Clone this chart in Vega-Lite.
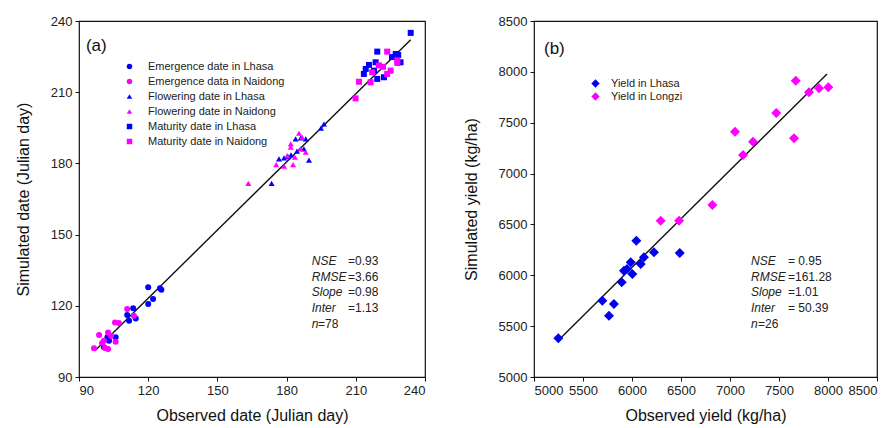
{
  "$schema": "https://vega.github.io/schema/vega-lite/v6.json",
  "padding": {"left": 14, "top": 14, "right": 8, "bottom": 6},
  "bounds": "flush",
  "spacing": 109,
  "background": "white",
  "config": {
    "font": "Liberation Sans",
    "view": {"stroke": "#111", "strokeWidth": 1.2},
    "axis": {
      "grid": false,
      "domain": false,
      "tickColor": "#111",
      "tickSize": 4,
      "labelFontSize": 13,
      "labelColor": "#222",
      "labelPadding": 3,
      "titleFontSize": 16,
      "titleFontWeight": "normal",
      "titleColor": "#111"
    },
    "axisX": {"titlePadding": 10},
    "axisY": {"titlePadding": 19}
  },
  "datasets": {
    "dates": [
      {"series": "Emergence date in Lhasa", "obs": 120.0, "sim": 127.8},
      {"series": "Emergence date in Lhasa", "obs": 125.1, "sim": 127.4},
      {"series": "Emergence date in Lhasa", "obs": 125.7, "sim": 126.8},
      {"series": "Emergence date in Lhasa", "obs": 122.1, "sim": 122.9},
      {"series": "Emergence date in Lhasa", "obs": 120.0, "sim": 120.8},
      {"series": "Emergence date in Lhasa", "obs": 113.5, "sim": 119.0},
      {"series": "Emergence date in Lhasa", "obs": 110.9, "sim": 116.1},
      {"series": "Emergence date in Lhasa", "obs": 114.6, "sim": 114.7},
      {"series": "Emergence date in Lhasa", "obs": 111.7, "sim": 113.7},
      {"series": "Emergence date in Lhasa", "obs": 102.3, "sim": 106.7},
      {"series": "Emergence date in Lhasa", "obs": 105.9, "sim": 106.7},
      {"series": "Emergence date in Lhasa", "obs": 100.8, "sim": 102.5},
      {"series": "Emergence date in Lhasa", "obs": 103.0, "sim": 105.3},
      {"series": "Emergence data in Naidong", "obs": 110.9, "sim": 118.7},
      {"series": "Emergence data in Naidong", "obs": 113.8, "sim": 115.8},
      {"series": "Emergence data in Naidong", "obs": 105.6, "sim": 113.0},
      {"series": "Emergence data in Naidong", "obs": 98.7, "sim": 107.7},
      {"series": "Emergence data in Naidong", "obs": 102.6, "sim": 108.8},
      {"series": "Emergence data in Naidong", "obs": 100.8, "sim": 105.3},
      {"series": "Emergence data in Naidong", "obs": 105.9, "sim": 104.9},
      {"series": "Emergence data in Naidong", "obs": 96.5, "sim": 102.1},
      {"series": "Emergence data in Naidong", "obs": 102.6, "sim": 101.8},
      {"series": "Emergence data in Naidong", "obs": 100.0, "sim": 104.3},
      {"series": "Emergence data in Naidong", "obs": 103.9, "sim": 107.3},
      {"series": "Emergence data in Naidong", "obs": 101.3, "sim": 102.2},
      {"series": "Emergence data in Naidong", "obs": 107.3, "sim": 112.8},
      {"series": "Flowering date in Lhasa", "obs": 196.2, "sim": 196.6},
      {"series": "Flowering date in Lhasa", "obs": 183.9, "sim": 190.3},
      {"series": "Flowering date in Lhasa", "obs": 186.1, "sim": 190.7},
      {"series": "Flowering date in Lhasa", "obs": 188.3, "sim": 190.3},
      {"series": "Flowering date in Lhasa", "obs": 187.5, "sim": 186.1},
      {"series": "Flowering date in Lhasa", "obs": 189.7, "sim": 181.4},
      {"series": "Flowering date in Lhasa", "obs": 176.7, "sim": 181.9},
      {"series": "Flowering date in Lhasa", "obs": 178.9, "sim": 182.3},
      {"series": "Flowering date in Lhasa", "obs": 180.7, "sim": 182.8},
      {"series": "Flowering date in Lhasa", "obs": 173.5, "sim": 171.6},
      {"series": "Flowering date in Lhasa", "obs": 194.9, "sim": 194.9},
      {"series": "Flowering date in Lhasa", "obs": 181.9, "sim": 183.6},
      {"series": "Flowering date in Lhasa", "obs": 184.5, "sim": 185.2},
      {"series": "Flowering date in Naidong", "obs": 185.4, "sim": 192.7},
      {"series": "Flowering date in Naidong", "obs": 181.8, "sim": 188.2},
      {"series": "Flowering date in Naidong", "obs": 181.8, "sim": 186.8},
      {"series": "Flowering date in Naidong", "obs": 186.1, "sim": 186.1},
      {"series": "Flowering date in Naidong", "obs": 188.3, "sim": 184.7},
      {"series": "Flowering date in Naidong", "obs": 180.3, "sim": 183.3},
      {"series": "Flowering date in Naidong", "obs": 183.6, "sim": 182.6},
      {"series": "Flowering date in Naidong", "obs": 175.5, "sim": 179.5},
      {"series": "Flowering date in Naidong", "obs": 178.9, "sim": 178.8},
      {"series": "Flowering date in Naidong", "obs": 182.8, "sim": 179.5},
      {"series": "Flowering date in Naidong", "obs": 163.4, "sim": 171.6},
      {"series": "Flowering date in Naidong", "obs": 186.7, "sim": 191.1},
      {"series": "Maturity date in Lhasa", "obs": 233.8, "sim": 235.0},
      {"series": "Maturity date in Lhasa", "obs": 219.3, "sim": 227.1},
      {"series": "Maturity date in Lhasa", "obs": 227.3, "sim": 226.1},
      {"series": "Maturity date in Lhasa", "obs": 228.4, "sim": 225.7},
      {"series": "Maturity date in Lhasa", "obs": 218.6, "sim": 222.6},
      {"series": "Maturity date in Lhasa", "obs": 229.4, "sim": 222.6},
      {"series": "Maturity date in Lhasa", "obs": 214.3, "sim": 219.8},
      {"series": "Maturity date in Lhasa", "obs": 217.9, "sim": 219.1},
      {"series": "Maturity date in Lhasa", "obs": 213.5, "sim": 217.7},
      {"series": "Maturity date in Lhasa", "obs": 219.3, "sim": 215.6},
      {"series": "Maturity date in Lhasa", "obs": 222.2, "sim": 216.3},
      {"series": "Maturity date in Lhasa", "obs": 225.7, "sim": 224.8},
      {"series": "Maturity date in Lhasa", "obs": 215.7, "sim": 221.5},
      {"series": "Maturity date in Naidong", "obs": 223.6, "sim": 227.1},
      {"series": "Maturity date in Naidong", "obs": 220.0, "sim": 221.3},
      {"series": "Maturity date in Naidong", "obs": 228.0, "sim": 223.4},
      {"series": "Maturity date in Naidong", "obs": 228.0, "sim": 222.3},
      {"series": "Maturity date in Naidong", "obs": 217.1, "sim": 218.4},
      {"series": "Maturity date in Naidong", "obs": 225.1, "sim": 219.1},
      {"series": "Maturity date in Naidong", "obs": 223.6, "sim": 217.7},
      {"series": "Maturity date in Naidong", "obs": 211.4, "sim": 214.4},
      {"series": "Maturity date in Naidong", "obs": 216.4, "sim": 214.2},
      {"series": "Maturity date in Naidong", "obs": 209.9, "sim": 207.4},
      {"series": "Maturity date in Naidong", "obs": 221.8, "sim": 220.7}
    ],
    "dateFit": [
      {"obs": 96.9, "sim": 101.1},
      {"obs": 233.8, "sim": 232.1}
    ],
    "yields": [
      {"series": "Yield in Lhasa", "obs": 5248, "sim": 5380},
      {"series": "Yield in Lhasa", "obs": 5697, "sim": 5750},
      {"series": "Yield in Lhasa", "obs": 5816, "sim": 5718},
      {"series": "Yield in Lhasa", "obs": 5765, "sim": 5603},
      {"series": "Yield in Lhasa", "obs": 5895, "sim": 5931},
      {"series": "Yield in Lhasa", "obs": 5918, "sim": 6045},
      {"series": "Yield in Lhasa", "obs": 6003, "sim": 6013},
      {"series": "Yield in Lhasa", "obs": 5987, "sim": 6128},
      {"series": "Yield in Lhasa", "obs": 6089, "sim": 6111},
      {"series": "Yield in Lhasa", "obs": 6122, "sim": 6177},
      {"series": "Yield in Lhasa", "obs": 6044, "sim": 6340},
      {"series": "Yield in Lhasa", "obs": 6224, "sim": 6226},
      {"series": "Yield in Lhasa", "obs": 6487, "sim": 6219},
      {"series": "Yield in Lhasa", "obs": 5949, "sim": 6062},
      {"series": "Yield in Longzi", "obs": 6293, "sim": 6537},
      {"series": "Yield in Longzi", "obs": 6480, "sim": 6537},
      {"series": "Yield in Longzi", "obs": 6820, "sim": 6691},
      {"series": "Yield in Longzi", "obs": 7051, "sim": 7412},
      {"series": "Yield in Longzi", "obs": 7133, "sim": 7182},
      {"series": "Yield in Longzi", "obs": 7235, "sim": 7313},
      {"series": "Yield in Longzi", "obs": 7472, "sim": 7595},
      {"series": "Yield in Longzi", "obs": 7653, "sim": 7347},
      {"series": "Yield in Longzi", "obs": 7671, "sim": 7913},
      {"series": "Yield in Longzi", "obs": 7806, "sim": 7799},
      {"series": "Yield in Longzi", "obs": 7908, "sim": 7838},
      {"series": "Yield in Longzi", "obs": 8003, "sim": 7848}
    ],
    "yieldFit": [
      {"obs": 5245, "sim": 5357},
      {"obs": 7990, "sim": 7979}
    ]
  },
  "hconcat": [
    {
      "width": 346,
      "height": 356,
      "layer": [
        {
          "data": {"name": "dateFit"},
          "mark": {"type": "line", "color": "#111", "strokeWidth": 1.4},
          "encoding": {
            "x": {"field": "obs", "type": "quantitative", "scale": {"domain": [90, 240], "nice": false, "zero": false}, "axis": {"values": [90, 120, 150, 180, 210, 240], "title": "Observed date (Julian day)"}},
            "y": {"field": "sim", "type": "quantitative", "scale": {"domain": [90, 240], "nice": false, "zero": false}, "axis": {"values": [90, 120, 150, 180, 210, 240], "title": "Simulated date (Julian day)"}}
          }
        },
        {
          "data": {"name": "dates"},
          "mark": {"type": "point", "filled": true, "opacity": 1, "size": 36},
          "encoding": {
            "x": {"field": "obs", "type": "quantitative"},
            "y": {"field": "sim", "type": "quantitative"},
            "color": {
              "field": "series", "type": "nominal",
              "scale": {
                "domain": ["Emergence date in Lhasa", "Emergence data in Naidong", "Flowering date in Lhasa", "Flowering date in Naidong", "Maturity date in Lhasa", "Maturity date in Naidong"],
                "range": ["#0000ff", "#ff00ff", "#0000ff", "#ff00ff", "#0000ff", "#ff00ff"]
              },
              "legend": {"title": null, "orient": "none", "legendX": 45, "legendY": 40, "labelFontSize": 11, "labelColor": "#222", "labelOffset": 13, "symbolSize": 30, "rowPadding": 3, "padding": 0}
            },
            "shape": {
              "field": "series", "type": "nominal",
              "scale": {
                "domain": ["Emergence date in Lhasa", "Emergence data in Naidong", "Flowering date in Lhasa", "Flowering date in Naidong", "Maturity date in Lhasa", "Maturity date in Naidong"],
                "range": ["circle", "circle", "triangle-up", "triangle-up", "square", "square"]
              },
              "legend": {"title": null, "orient": "none", "legendX": 45, "legendY": 40, "labelFontSize": 11, "labelColor": "#222", "labelOffset": 13, "symbolSize": 30, "rowPadding": 3, "padding": 0}
            }
          }
        },
        {
          "data": {"values": [{}]},
          "mark": {"type": "text", "fontSize": 17, "align": "left", "baseline": "middle", "color": "#111"},
          "encoding": {
            "x": {"datum": 93, "type": "quantitative"},
            "y": {"datum": 229.5, "type": "quantitative"},
            "text": {"value": "(a)"}
          }
        },
        {
          "data": {"values": [{}]},
          "mark": {"type": "text", "fontSize": 12, "fontStyle": "italic", "align": "left", "baseline": "top", "lineHeight": 15.7, "color": "#222"},
          "encoding": {
            "x": {"datum": 190.9, "type": "quantitative"},
            "y": {"datum": 141.0, "type": "quantitative"},
            "text": {"value": ["NSE", "RMSE", "Slope", "Inter", "n"]}
          }
        },
        {
          "data": {"values": [{}]},
          "mark": {"type": "text", "fontSize": 12, "align": "left", "baseline": "top", "lineHeight": 15.7, "color": "#222"},
          "encoding": {
            "x": {"datum": 206.6, "type": "quantitative"},
            "y": {"datum": 141.0, "type": "quantitative"},
            "text": {"value": ["=0.93", "=3.66", "=0.98", "=1.13"]}
          }
        },
        {
          "data": {"values": [{}]},
          "mark": {"type": "text", "fontSize": 12, "align": "left", "baseline": "top", "color": "#222"},
          "encoding": {
            "x": {"datum": 193.6, "type": "quantitative"},
            "y": {"datum": 114.5, "type": "quantitative"},
            "text": {"value": "=78"}
          }
        }
      ]
    },
    {
      "width": 343,
      "height": 356,
      "layer": [
        {
          "data": {"name": "yieldFit"},
          "mark": {"type": "line", "color": "#111", "strokeWidth": 1.4},
          "encoding": {
            "x": {"field": "obs", "type": "quantitative", "scale": {"domain": [5000, 8500], "nice": false, "zero": false}, "axis": {"values": [5000, 5500, 6000, 6500, 7000, 7500, 8000, 8500], "format": "d", "title": "Observed yield (kg/ha)"}},
            "y": {"field": "sim", "type": "quantitative", "scale": {"domain": [5000, 8500], "nice": false, "zero": false}, "axis": {"values": [5000, 5500, 6000, 6500, 7000, 7500, 8000, 8500], "format": "d", "title": "Simulated yield (kg/ha)"}}
          }
        },
        {
          "data": {"name": "yields"},
          "mark": {"type": "point", "filled": true, "opacity": 1, "size": 100},
          "encoding": {
            "x": {"field": "obs", "type": "quantitative"},
            "y": {"field": "sim", "type": "quantitative"},
            "color": {
              "field": "series", "type": "nominal",
              "scale": {"domain": ["Yield in Lhasa", "Yield in Longzi"], "range": ["#0000ee", "#ff00ff"]},
              "legend": {"title": null, "orient": "none", "legendX": 56, "legendY": 57, "labelFontSize": 11, "labelColor": "#222", "labelOffset": 10, "symbolSize": 70, "rowPadding": 1, "padding": 0}
            },
            "shape": {
              "field": "series", "type": "nominal",
              "scale": {"domain": ["Yield in Lhasa", "Yield in Longzi"], "range": ["diamond", "diamond"]},
              "legend": {"title": null, "orient": "none", "legendX": 56, "legendY": 57, "labelFontSize": 11, "labelColor": "#222", "labelOffset": 10, "symbolSize": 70, "rowPadding": 1, "padding": 0}
            }
          }
        },
        {
          "data": {"values": [{}]},
          "mark": {"type": "text", "fontSize": 17, "align": "left", "baseline": "middle", "color": "#111"},
          "encoding": {
            "x": {"datum": 5102, "type": "quantitative"},
            "y": {"datum": 8224, "type": "quantitative"},
            "text": {"value": "(b)"}
          }
        },
        {
          "data": {"values": [{}]},
          "mark": {"type": "text", "fontSize": 12, "fontStyle": "italic", "align": "left", "baseline": "top", "lineHeight": 15.7, "color": "#222"},
          "encoding": {
            "x": {"datum": 7214, "type": "quantitative"},
            "y": {"datum": 6190, "type": "quantitative"},
            "text": {"value": ["NSE", "RMSE", "Slope", "Inter", "n"]}
          }
        },
        {
          "data": {"values": [{}]},
          "mark": {"type": "text", "fontSize": 12, "align": "left", "baseline": "top", "lineHeight": 15.7, "color": "#222"},
          "encoding": {
            "x": {"datum": 7592, "type": "quantitative"},
            "y": {"datum": 6190, "type": "quantitative"},
            "text": {"value": ["= 0.95", "=161.28", "=1.01", "= 50.39"]}
          }
        },
        {
          "data": {"values": [{}]},
          "mark": {"type": "text", "fontSize": 12, "align": "left", "baseline": "top", "color": "#222"},
          "encoding": {
            "x": {"datum": 7286, "type": "quantitative"},
            "y": {"datum": 5573, "type": "quantitative"},
            "text": {"value": "=26"}
          }
        }
      ]
    }
  ],
  "resolve": {"scale": {"color": "independent", "shape": "independent"}}
}
